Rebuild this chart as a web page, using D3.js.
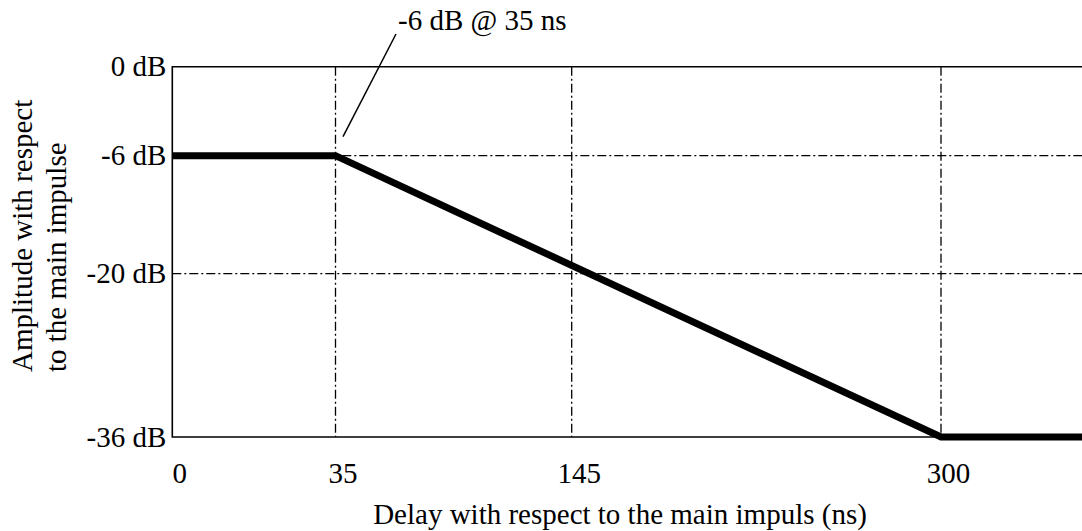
<!DOCTYPE html>
<html>
<head>
<meta charset="utf-8">
<script src="https://cdn.jsdelivr.net/npm/d3@7"></script>
<style>
  body { margin: 0; background: #fff; }
  text { font-family: "Liberation Serif", "Times New Roman", serif; fill: #000; }
</style>
</head>
<body>
<svg id="chart"></svg>
<script>
// delay breakpoints (ns) and amplitude ticks (dB)
const xTicks = [0, 35, 145, 300];
const yTicks = [0, -6, -20, -36];
const xGrid = [35, 145, 300];
const yGrid = [-6, -20];

// the profile: flat, linear fall, flat
const delay = [0, 35, 300, 360];
const amplitude = [-6, -6, -36, -36];

const annotation = "-6 dB @ 35 ns";
const xTitle = "Delay with respect to the main impuls (ns)";
const yTitle = ["Amplitude with respect", "to the main impulse"];

const width = 1082;
const height = 531;
const fontSize = "29px";

const svg = d3.select("#chart")
    .attr("width", width)
    .attr("height", height);

// the drawing is schematic, the axes are not uniform
const x = d3.scaleLinear()
    .domain([0, 35, 145, 300, 360])
    .range([172.3, 335.5, 571.7, 941, 1082]);

const y = d3.scaleLinear()
    .domain([0, -6, -20, -36])
    .range([66.7, 155.7, 273.7, 437]);

const left = x(0);
const right = width;

// dash-dot grid
svg.selectAll(".vgrid")
    .data(xGrid)
    .enter().append("line")
    .attr("class", "vgrid")
    .attr("x1", d => x(d))
    .attr("x2", d => x(d))
    .attr("y1", y(0))
    .attr("y2", y(-36))
    .attr("stroke", "#000")
    .attr("stroke-width", 1.3)
    .attr("stroke-dasharray", "9,3,2,3");

svg.selectAll(".hgrid")
    .data(yGrid)
    .enter().append("line")
    .attr("class", "hgrid")
    .attr("x1", left)
    .attr("x2", right)
    .attr("y1", d => y(d))
    .attr("y2", d => y(d))
    .attr("stroke", "#000")
    .attr("stroke-width", 1.3)
    .attr("stroke-dasharray", "9,3,2,3");

// frame: left, top, bottom
const frame = d3.path();
frame.moveTo(right, y(0));
frame.lineTo(left, y(0));
frame.lineTo(left, y(-36));
frame.lineTo(right, y(-36));
svg.append("path")
    .attr("d", frame.toString())
    .attr("fill", "none")
    .attr("stroke", "#000")
    .attr("stroke-width", 1.6);

// axes (labels only)
const yAxis = svg.append("g")
    .attr("transform", `translate(${left},0)`)
    .call(d3.axisLeft(y).tickValues(yTicks).tickSize(0).tickPadding(6)
        .tickFormat(d => `${d} dB`));

const xAxis = svg.append("g")
    .attr("transform", `translate(0,${y(-36)})`)
    .call(d3.axisBottom(x).tickValues(xTicks).tickSize(0).tickPadding(25));

[yAxis, xAxis].forEach(g =>
{
    g.select(".domain").remove();
    g.selectAll("text")
        .attr("font-family", "Liberation Serif, Times New Roman, serif")
        .attr("font-size", fontSize)
        .attr("fill", "#000");
});
xAxis.selectAll("text").attr("dx", 7);
yAxis.selectAll("text").attr("dy", "0.32em");

// the profile
const line = d3.line()
    .x((d, i) => x(delay[i]))
    .y((d, i) => y(amplitude[i]));

svg.append("path")
    .attr("d", line(delay))
    .attr("fill", "none")
    .attr("stroke", "#000")
    .attr("stroke-width", 7)
    .attr("stroke-linejoin", "miter");

// annotation
svg.append("line")
    .attr("x1", x(35) + 7.5)
    .attr("y1", y(-6) - 19)
    .attr("x2", 396)
    .attr("y2", 34)
    .attr("stroke", "#000")
    .attr("stroke-width", 1.5);

svg.append("text")
    .attr("x", 398)
    .attr("y", 30)
    .attr("font-size", fontSize)
    .text(annotation);

// titles
svg.append("text")
    .attr("x", 620)
    .attr("y", 524)
    .attr("text-anchor", "middle")
    .attr("font-size", fontSize)
    .text(xTitle);

svg.selectAll(".ytitle")
    .data(yTitle)
    .enter().append("text")
    .attr("class", "ytitle")
    .attr("transform", (d, i) => `translate(${32 + i * 34},372) rotate(-90)`)
    .attr("text-anchor", "start")
    .attr("font-size", fontSize)
    .text(d => d);
</script>
</body>
</html>
